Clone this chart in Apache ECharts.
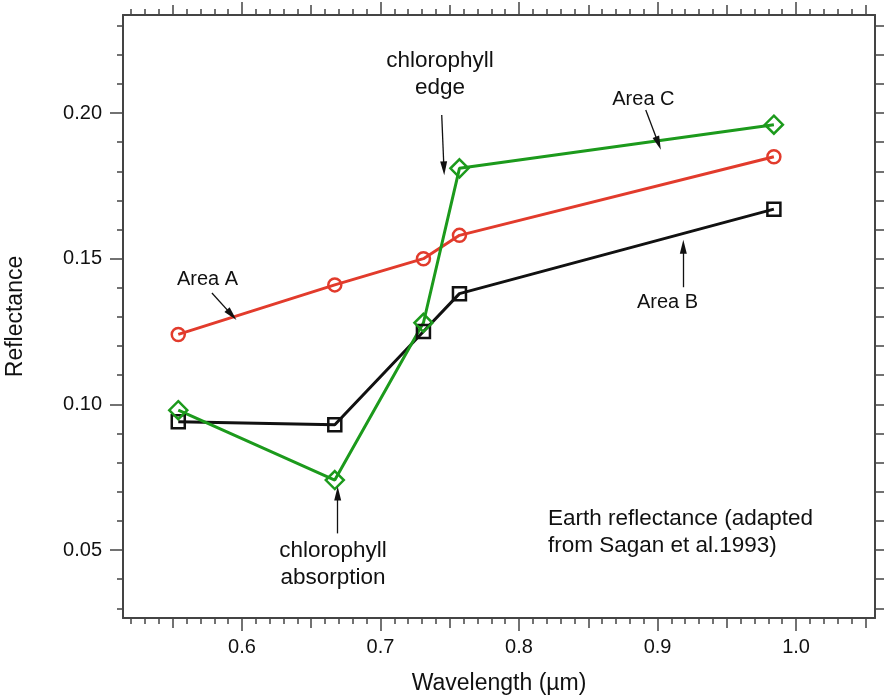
<!DOCTYPE html>
<html>
<head>
<meta charset="utf-8">
<script src="https://cdn.jsdelivr.net/npm/echarts@6/dist/echarts.min.js"></script>
<style>
html,body{margin:0;padding:0;background:#fff;}
#chart{width:884px;height:698px;}
</style>
</head>
<body>
<div id="chart"></div>
<script>
// ---- data ----
const wavelength = [0.554, 0.667, 0.731, 0.757, 0.984];
const areaA = [0.124, 0.141, 0.150, 0.158, 0.185];
const areaB = [0.094, 0.093, 0.125, 0.138, 0.167];
const areaC = [0.098, 0.074, 0.128, 0.181, 0.196];

const xMajorTicks = [0.6, 0.7, 0.8, 0.9, 1.0];
const xMidTicks = [0.55, 0.65, 0.75, 0.85, 0.95, 1.05];
const yMajorTicks = [0.05, 0.10, 0.15, 0.20];

const xRange = [0.5141, 1.0570];
const yRange = [0.02666, 0.23364];

const xMinorTicks = [];
for (let i = 52; i <= 105; i++) xMinorTicks.push(i / 100);
const yMinorTicks = [];
for (let i = 3; i <= 23; i++) yMinorTicks.push(i / 100);

// annotations: [text, x, y, align, fontSize]
const labels = [
  ['Area A', 0.5751, 0.1428, 'center', 20],
  ['chlorophyll\nedge', 0.7430, 0.2132, 'center', 22.5],
  ['Area C', 0.8898, 0.2047, 'center', 20],
  ['Area B', 0.9072, 0.1351, 'center', 20],
  ['chlorophyll\nabsorption', 0.6657, 0.0452, 'center', 22.5],
  ['Earth reflectance (adapted\nfrom Sagan et al.1993)', 0.8209, 0.0560, 'left', 22.5]
];
// arrows: [x0, y0, x1(tip), y1(tip)]
const arrows = [
  [0.5783, 0.1382, 0.5926, 0.1307],
  [0.7442, 0.1993, 0.7458, 0.1810],
  [0.8915, 0.2010, 0.9006, 0.1896],
  [0.9186, 0.1402, 0.9186, 0.1541],
  [0.6691, 0.0557, 0.6691, 0.0694]
];

const FONT = 'Liberation Sans';
const AX = '#444';

function xAxisDef(pos, ticks, len, showLabel, showLine) {
  return {
    type: 'value', position: pos, min: xRange[0], max: xRange[1],
    axisLine: {show: showLine, onZero: false, lineStyle: {color: AX, width: 2}},
    axisTick: {show: true, inside: false, length: len, customValues: ticks, lineStyle: {color: AX, width: 1.5}},
    axisLabel: {show: showLabel, customValues: ticks, margin: 19, color: '#111', fontFamily: FONT, fontSize: 20,
      formatter: v => v.toFixed(1)},
    splitLine: {show: false}
  };
}
function yAxisDef(pos, ticks, len, showLabel, showLine) {
  return {
    type: 'value', position: pos, min: yRange[0], max: yRange[1],
    axisLine: {show: showLine, onZero: false, lineStyle: {color: AX, width: 2}},
    axisTick: {show: true, inside: false, length: len, customValues: ticks, lineStyle: {color: AX, width: 1.5}},
    axisLabel: {show: showLabel, customValues: ticks, margin: 21, color: '#111', fontFamily: FONT, fontSize: 20,
      formatter: v => v.toFixed(2)},
    splitLine: {show: false}
  };
}

const xAxes = [
  xAxisDef('bottom', xMajorTicks, 13, true, true),
  xAxisDef('bottom', xMidTicks, 10, false, false),
  xAxisDef('bottom', xMinorTicks, 6, false, false),
  xAxisDef('top', xMajorTicks, 13, false, true),
  xAxisDef('top', xMidTicks, 10, false, false),
  xAxisDef('top', xMinorTicks, 6, false, false)
];
xAxes[0].name = 'Wavelength (\u00b5m)';
xAxes[0].nameLocation = 'middle';
xAxes[0].nameGap = 54;
xAxes[0].nameTextStyle = {color: '#111', fontFamily: FONT, fontSize: 23};

const yAxes = [
  yAxisDef('left', yMajorTicks, 13, true, true),
  yAxisDef('left', yMinorTicks, 6, false, false),
  yAxisDef('right', yMinorTicks, 9, false, true)
];
yAxes[0].name = 'Reflectance';
yAxes[0].nameLocation = 'middle';
yAxes[0].nameGap = 96;
yAxes[0].nameTextStyle = {color: '#111', fontFamily: FONT, fontSize: 23};

function pairs(ys) { return wavelength.map((x, i) => [x, ys[i]]); }

function lineSeries(name, ys, color, symbol, size) {
  return {
    name, type: 'line', xAxisIndex: 0, yAxisIndex: 0, data: pairs(ys),
    symbol, symbolSize: size, showAllSymbol: true,
    lineStyle: {color, width: 3},
    itemStyle: {color: 'rgba(255,255,255,0)', borderColor: color, borderWidth: 2.5},
    emphasis: {disabled: true}, animation: false
  };
}

const option = {
  animation: false,
  grid: {left: 123, top: 15, width: 752, height: 603, containLabel: false, outerBoundsMode: 'none'},
  xAxis: xAxes,
  yAxis: yAxes,
  series: [
    lineSeries('Area A', areaA, '#e23b2c', 'circle', 13),
    lineSeries('Area B', areaB, '#111111', 'rect', 13),
    lineSeries('Area C', areaC, '#1c9a1c', 'diamond', 18),
    {
      type: 'line', xAxisIndex: 0, yAxisIndex: 0, data: [], silent: true,
      markLine: {
        silent: true, animation: false,
        symbol: ['none', 'triangle'],
        lineStyle: {color: '#111', width: 1.3, type: 'solid'},
        label: {show: false},
        data: arrows.map(a => [
          {coord: [a[0], a[1]], symbol: 'none'},
          {coord: [a[2], a[3]], symbol: 'triangle', symbolSize: [7, 14]}
        ])
      },
      markPoint: {
        silent: true, animation: false,
        symbol: 'circle', symbolSize: 0,
        data: labels.map(l => ({
          coord: [l[1], l[2]],
          itemStyle: {color: 'rgba(0,0,0,0)'},
          label: {
            show: true, formatter: l[0],
            position: l[3] === 'left' ? 'right' : 'inside',
            distance: 0,
            align: l[3], verticalAlign: 'middle',
            color: '#111', fontFamily: FONT, fontSize: l[4], lineHeight: 27
          }
        }))
      }
    }
  ]
};

const chart = echarts.init(document.getElementById('chart'), null, {renderer: 'canvas'});
chart.setOption(option);
</script>
</body>
</html>
